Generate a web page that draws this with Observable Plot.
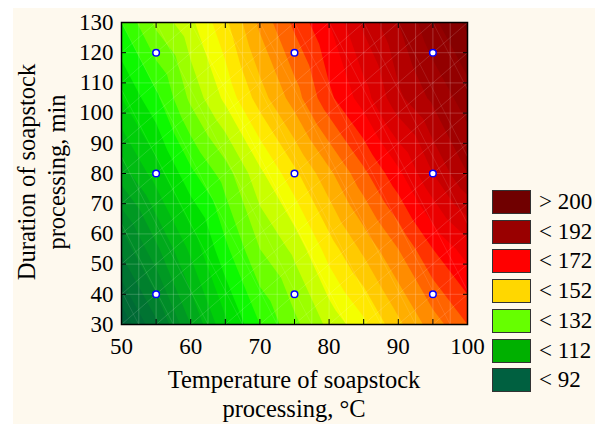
<!DOCTYPE html>
<html><head><meta charset="utf-8">
<script src="https://cdn.jsdelivr.net/npm/d3@7"></script>
<script src="https://cdn.jsdelivr.net/npm/@observablehq/plot@0.6"></script>
<style>
html,body{margin:0;padding:0;background:#fff;overflow:hidden;width:595px;height:424px;}
#bg{position:absolute;left:13px;top:8px;width:582px;height:416px;background:#fef9ee;}
#chart{position:absolute;left:0;top:0;}
#chart svg text{font-family:"Liberation Serif","Times New Roman",serif;}
#legend{position:absolute;left:492px;top:190px;font-family:"Liberation Serif","Times New Roman",serif;font-size:23px;white-space:nowrap;color:#000;}
.item{position:absolute;left:0;height:23px;}
.sw{position:absolute;left:0;top:0;width:37px;height:22px;border:1px solid #333;box-sizing:content-box;}
.lb{position:absolute;left:47px;top:0;line-height:23px;}
</style>
</head><body>
<div id="bg"></div>
<div id="chart"></div>
<div id="legend"></div>
<script>
const SERIF = "'Liberation Serif','Times New Roman',serif";

// Axis ticks
const xTicks = [50, 60, 70, 80, 90, 100];
const xMinorTicks = [50, 55, 60, 65, 70, 75, 80, 85, 90, 95, 100];
const yTicks = [30, 40, 50, 60, 70, 80, 90, 100, 110, 120, 130];

// Surface samples (temperature columns × duration rows)
const gridX = [50, 55, 60, 65, 70, 75, 80, 85, 90, 95, 100];
const gridY = [30, 55, 80, 105, 130];
const row30  = [85, 95, 108, 119, 128, 135, 141, 147, 155, 162, 168];
const row55  = [97, 107, 117, 127, 136, 141, 150, 157, 164, 172, 178];
const row80  = [110, 118, 127, 134, 143, 151, 159, 167, 175, 184, 192];
const row105 = [120, 127, 137, 145, 154, 162, 171, 178, 187, 193, 198];
const row130 = [128, 137, 143, 151, 161, 169, 176, 185, 192, 199, 205];

// Experimental design points
const ptX = [55, 75, 95];
const ptY = [40, 80, 120];

// Legend
const legendLabels = ["> 200", "< 192", "< 172", "< 152", "< 132", "< 112", "< 92"];
const legendColors = ["#700000", "#990000", "#ff0000", "#ffd700", "#66ff00", "#00b000", "#006040"];

// Colour ramp
const colorStops = [80, 92, 105, 112, 120, 125, 132, 138, 145, 150, 158, 165, 172, 182, 192, 208];
const colorRange = ["#005a3c", "#007432", "#009c22", "#00bc12", "#00e000", "#10ff00", "#6cff00", "#b4ff00", "#ffff00", "#ffd800", "#ffa000", "#ff5a00", "#ff0000", "#d00000", "#a00000", "#6c0000"];
const levels = d3.range(80, 212, 4);

// Mesh lines (faint white triangulation texture)
const meshX = d3.range(50, 100.01, 2.5);
const meshY = [30, 40, 50, 60, 70, 80, 90, 100, 110, 120, 130];
const meshDiag = d3.range(0, 101, 5);

const xTitle = ["Temperature of soapstock", "processing, °C"];
const yTitle = ["Duration of soapstock", "processing, min"];

const rows = [row30, row55, row80, row105, row130];
const samples = gridY.flatMap((y, i) => rows[i].map((v, j) => ({x: gridX[j], y, v})));
const points = ptY.flatMap(y => ptX.map(x => ({x, y})));

const plot = Plot.plot({
  width: 595, height: 424,
  marginLeft: 121, marginRight: 128, marginTop: 22, marginBottom: 100,
  style: {background: "transparent", fontFamily: SERIF, fontSize: "23px", color: "#000"},
  x: {domain: [50, 100]},
  y: {domain: [30, 130]},
  color: {type: "linear", domain: colorStops, range: colorRange},
  marks: [
    Plot.contour(samples, {x: "x", y: "y", fill: "v", interpolate: "barycentric", thresholds: levels, stroke: "none", pixelSize: 1}),
    Plot.ruleX(meshX, {stroke: "white", strokeOpacity: 0.2}),
    Plot.ruleY(meshY, {stroke: "white", strokeOpacity: 0.2}),
    Plot.link(meshDiag, {x1: d => d, y1: 30, x2: d => d + 50, y2: 130, stroke: "white", strokeOpacity: 0.14, clip: true}),
    Plot.link(meshDiag, {x1: d => d + 10, y1: 130, x2: d => d + 32.5, y2: 30, stroke: "white", strokeOpacity: 0.1, clip: true}),
    Plot.dot(points, {x: "x", y: "y", r: 3.3, fill: "white", stroke: "#0000ff", strokeWidth: 1.5}),
    Plot.axisX({anchor: "bottom", ticks: xTicks, tickSize: 0, tickPadding: 13, label: null, fontSize: 23, fontFamily: SERIF}),
    Plot.axisX({anchor: "bottom", ticks: xMinorTicks, tickSize: -5, tickFormat: () => "", label: null}),
    Plot.axisX({anchor: "top", ticks: xMinorTicks, tickSize: -5, tickFormat: () => "", label: null}),
    Plot.axisY({anchor: "left", ticks: yTicks, tickSize: 0, tickPadding: 8, label: null, fontSize: 23, fontFamily: SERIF}),
    Plot.axisY({anchor: "left", ticks: yTicks, tickSize: -5, tickFormat: () => "", label: null}),
    Plot.axisY({anchor: "right", ticks: yTicks, tickSize: -5, tickFormat: () => "", label: null}),
    Plot.frame({stroke: "#000", strokeWidth: 1.5})
  ]
});
document.getElementById("chart").appendChild(plot);

// Axis titles
const svg = d3.select(plot);
const g = svg.append("g").attr("font-family", SERIF).attr("font-size", 24.5).attr("fill", "#000").attr("text-anchor", "middle");
g.append("text").attr("x", 294).attr("y", 388).text(xTitle[0]);
g.append("text").attr("x", 294).attr("y", 417).text(xTitle[1]);
g.append("text").attr("transform", "translate(35,172) rotate(-90)").text(yTitle[0]);
g.append("text").attr("transform", "translate(65,172) rotate(-90)").text(yTitle[1]);

const leg = document.getElementById("legend");
legendLabels.forEach((lab, i) => {
  const it = document.createElement("div");
  it.className = "item";
  it.style.top = (i * 29.7) + "px";
  const sw = document.createElement("div");
  sw.className = "sw";
  sw.style.background = legendColors[i];
  const lb = document.createElement("div");
  lb.className = "lb";
  lb.textContent = lab;
  it.appendChild(sw); it.appendChild(lb);
  leg.appendChild(it);
});
</script>
</body></html>
